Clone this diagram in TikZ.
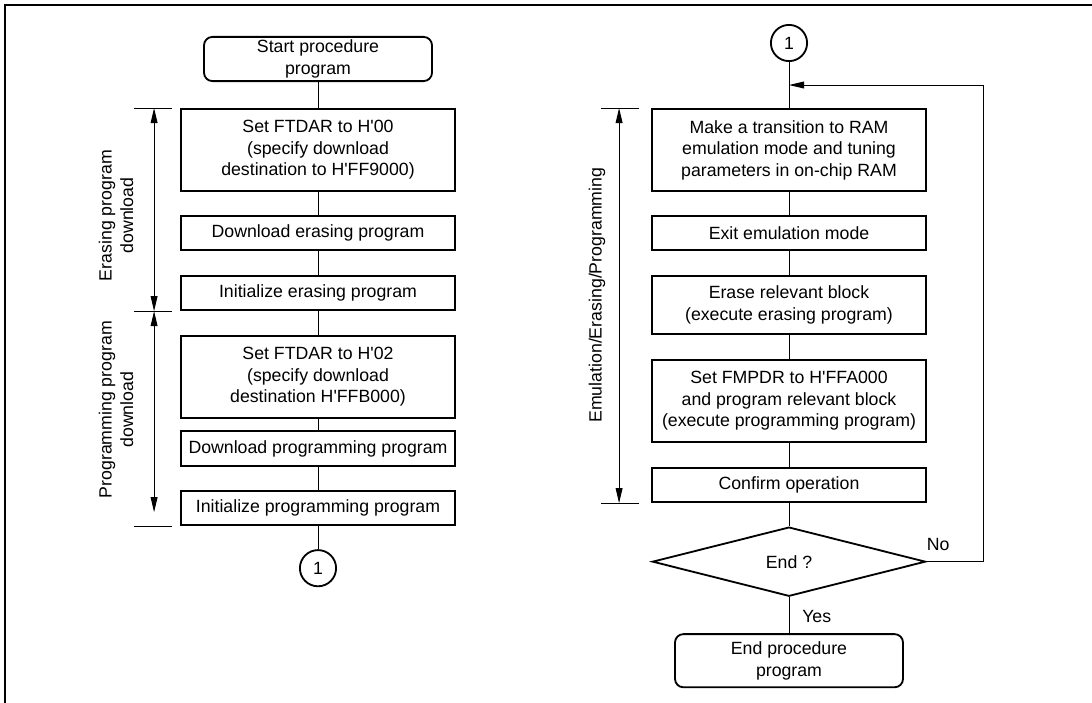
\documentclass[tikz,border=0pt]{standalone}
\usepackage{fontspec}
\setmainfont{Liberation Sans}
\usepackage{tikz}
\usetikzlibrary{positioning,calc,shapes.geometric,arrows.meta}
\newcommand{\boxfont}{\fontsize{12.6}{15.3}\selectfont}
\newcommand{\q}{\textquotesingle}

\begin{document}
\begin{tikzpicture}[
    box/.style={draw, line width=1.3pt, minimum width=6.85cm,
                minimum height=0.855cm, align=center, font=\boxfont,
                inner sep=0pt},
    term/.style={draw, line width=1.3pt, rounded corners=6pt,
                 minimum width=5.7cm, align=center, font=\boxfont,
                 inner sep=0pt},
    conn/.style={draw, circle, line width=1.3pt, minimum size=0.905cm,
                 inner sep=0pt, font=\boxfont},
    dec/.style={draw, diamond, line width=1.3pt, minimum width=6.83cm,
                minimum height=1.73cm, inner sep=0pt, font=\boxfont},
    line/.style={line width=0.7pt},
    arr/.style={line width=0.7pt, -{Triangle[length=0.375cm, width=0.17cm]}},
    dimarr/.style={line width=0.7pt,
                   {Triangle[length=0.375cm, width=0.17cm]}-{Triangle[length=0.375cm, width=0.17cm]}},
    dimlbl/.style={rotate=90, align=center, font=\boxfont, inner sep=0pt},
    lbl/.style={font=\boxfont, inner sep=0pt},
  ]
  \useasboundingbox (0,0) rectangle (27.3,-17.575);
  % Frame (runs off the right and bottom edges)
  \draw[line width=1.8pt] (0.125,-17.575) -- (0.125,-0.125) -- (27.3,-0.125);

  % Left column: download of the two programs
  \node[term, minimum height=1.105cm] (start) at (7.95,-1.475) {Start procedure\\program};
  \node[box, minimum height=2.055cm, below=0.65cm of start] (ftdar0)
       {Set FTDAR to H\q00\\(specify download\\destination to H\q FF9000)};
  \node[box, below=0.575cm of ftdar0] (dlerase) {Download erasing program};
  \node[box, below=0.6cm of dlerase] (initerase) {Initialize erasing program};
  \node[box, minimum height=2.055cm, below=0.6cm of initerase] (ftdar2)
       {Set FTDAR to H\q02\\(specify download\\destination H\q FFB000)};
  \node[box, minimum height=0.88cm, below=0.275cm of ftdar2] (dlprog) {Download programming program};
  \node[box, below=0.575cm of dlprog] (initprog) {Initialize programming program};
  \node[conn, below=0.575cm of initprog] (c1) {1};

  \draw[line] (start) -- (ftdar0);
  \draw[line] (ftdar0) -- (dlerase);
  \draw[line] (dlerase) -- (initerase);
  \draw[line] (initerase) -- (ftdar2);
  \draw[line] (ftdar2) -- (dlprog);
  \draw[line] (dlprog) -- (initprog);
  \draw[line] (initprog) -- (c1);

  % Left dimension arrows
  \coordinate (etop) at ($(ftdar0.north west)+(-0.65,0)$);
  \coordinate (emid) at ($(initerase.south west)+(-0.65,0)$);
  \coordinate (ebot) at ($(initprog.south west)+(-0.65,0)$);
  \foreach \c in {etop,emid,ebot}
    \draw[line] ($(\c)+(0.45,0)$) -- ($(\c)+(-0.5,0)$);
  \draw[dimarr] (etop) -- (emid);
  \draw[dimarr, shorten >=0.35cm] (emid) -- (ebot);
  \node[dimlbl] (elbl) at ($(etop)!0.5!(emid)+(-0.95,-0.15)$) {Erasing program\\download};
  \node[dimlbl] (plbl) at ($(emid)!0.5!(ebot)+(-0.95,0.225)$) {Programming program\\download};

  % Right column: emulation, erasing and programming
  \node[conn] (c2) at (19.725,-1.075) {1};
  \node[box, minimum height=2.055cm, below=1.15cm of c2] (ramemu)
       {Make a transition to RAM\\emulation mode and tuning\\parameters in on-chip RAM};
  \node[box, below=0.575cm of ramemu] (exitemu) {Exit emulation mode};
  \node[box, minimum height=1.455cm, below=0.6cm of exitemu] (erase)
       {Erase relevant block\\(execute erasing program)};
  \node[box, minimum height=2.055cm, below=0.6cm of erase] (fmpdr)
       {Set FMPDR to H\q FFA000\\and program relevant block\\(execute programming program)};
  \node[box, below=0.6cm of fmpdr] (confirm) {Confirm operation};
  \node[dec, below=0.575cm of confirm] (isend) {End ?};
  \node[term, minimum height=1.33cm, below=0.9cm of isend] (endp) {End procedure\\program};

  \draw[line] (c2) -- (ramemu);
  \draw[line] (ramemu) -- (exitemu);
  \draw[line] (exitemu) -- (erase);
  \draw[line] (erase) -- (fmpdr);
  \draw[line] (fmpdr) -- (confirm);
  \draw[line] (confirm) -- (isend);
  \draw[line] (isend) -- (endp);

  % No: loop back above the first box
  \coordinate (loopin) at ($(c2.south)!0.5!(ramemu.north)$);
  \draw[arr] (isend.east) -- ++(1.425,0) |- (loopin);
  \node[lbl, anchor=base west] (nolbl) at ($(isend.east)+(0,0.275)$) {No};
  \node[lbl, anchor=base west] (yeslbl) at ($(isend.south)+(0.325,-0.625)$) {Yes};

  % Right dimension arrow
  \coordinate (mtop) at ($(ramemu.north west)+(-0.8,0)$);
  \coordinate (mbot) at ($(confirm.south west)+(-0.8,0)$);
  \foreach \c in {mtop,mbot}
    \draw[line] ($(\c)+(0.5,0)$) -- ($(\c)+(-0.45,0)$);
  \draw[dimarr] (mtop) -- (mbot);
  \node[dimlbl] (mlbl) at ($(mtop)!0.5!(mbot)+(-0.55,0.26)$) {Emulation/Erasing/Programming};

\end{tikzpicture}
\end{document}
